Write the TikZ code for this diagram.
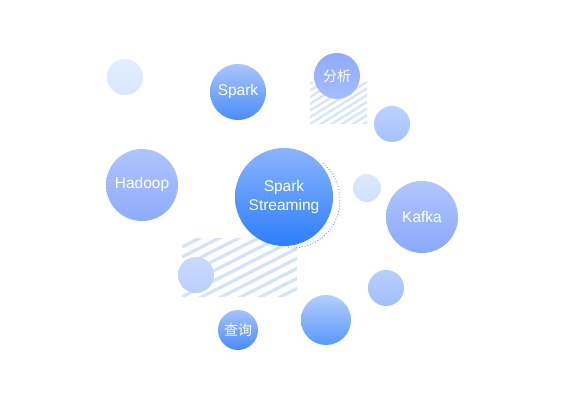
\documentclass[tikz,border=0pt]{standalone}
\usepackage{fontspec}
\setmainfont{Liberation Sans}
\newfontfamily\cjk{Noto Sans CJK SC}
\definecolor{stripeA}{HTML}{D3E2FD}
\definecolor{stripeB}{HTML}{D6E3FD}
\definecolor{dotblue}{HTML}{4A8AF9}
\tikzset{
  bubble/.style={circle, draw=none, inner sep=0pt, text=white, align=center,
    font=\fontsize{15.5}{19}\selectfont},
  cjkbubble/.style={bubble, font=\cjk\fontsize{14}{16}\selectfont},
  dot/.style={circle, draw=none, inner sep=0pt},
  stripeone/.style={draw=stripeA, line width=3.2pt},
  stripetwo/.style={draw=stripeB, line width=2.2pt},
}
\begin{document}
\begin{tikzpicture}[x=1pt,y=1pt]
\useasboundingbox (0,0) rectangle (565,403);
\fill[white] (0,0) rectangle (565,403);
% hatch areas
\begin{scope}
  \clip (182,106) rectangle (297,164);
  \foreach \k in {-10,...,10}
    \draw[stripeone] (182,106+\k*10) -- ++(27:200);
\end{scope}
\begin{scope}
  \clip (310,279) rectangle (367,320);
  \foreach \k in {-12,...,12}
    \draw[stripetwo] (310,279+\k*6.7) -- ++(32:150);
\end{scope}
% dotted arc
\draw[dotblue, dotted, line width=0.8pt] (292,203) ++(50:48) arc[start angle=50, end angle=-95, radius=48];
% circles
\node[dot, minimum size=36pt, top color={rgb,255:red,227;green,237;blue,254}, bottom color={rgb,255:red,216;green,230;blue,253}] (lightA) at (125,326) {};
\node[bubble, minimum size=56pt, top color={rgb,255:red,169;green,197;blue,253}, bottom color={rgb,255:red,77;green,140;blue,250}] (spark) at (238,311) {Spark};
\node[cjkbubble, minimum size=46pt, top color={rgb,255:red,143;green,171;blue,251}, bottom color={rgb,255:red,165;green,188;blue,253}] (fenxi) at (337,327) {分析};
\node[dot, minimum size=36pt, top color={rgb,255:red,188;green,210;blue,254}, bottom color={rgb,255:red,166;green,193;blue,253}] (smallB) at (392,279) {};
\node[bubble, minimum size=72pt, top color={rgb,255:red,174;green,196;blue,253}, bottom color={rgb,255:red,144;green,171;blue,252}] (hadoop) at (142,218) {Hadoop};
\node[bubble, minimum size=98pt, top color={rgb,255:red,138;green,180;blue,252}, bottom color={rgb,255:red,45;green,126;blue,252}] (ss) at (284,206) {Spark\\Streaming};
\node[dot, minimum size=28pt, top color={rgb,255:red,220;green,233;blue,254}, bottom color={rgb,255:red,208;green,225;blue,253}] (smallC) at (367,215) {};
\node[bubble, minimum size=72pt, top color={rgb,255:red,177;green,198;blue,253}, bottom color={rgb,255:red,138;green,168;blue,252}] (kafka) at (422,186) {Kafka};
\node[dot, minimum size=36pt, top color={rgb,255:red,200;green,218;blue,254}, bottom color={rgb,255:red,186;green,208;blue,253}] (smallD) at (196,128) {};
\node[dot, minimum size=36pt, top color={rgb,255:red,184;green,207;blue,253}, bottom color={rgb,255:red,160;green,190;blue,252}] (smallE) at (386,115) {};
\node[dot, minimum size=50pt, top color={rgb,255:red,180;green,206;blue,253}, bottom color={rgb,255:red,90;green,152;blue,250}] (midF) at (326,83) {};
\node[cjkbubble, minimum size=40pt, top color={rgb,255:red,164;green,194;blue,253}, bottom color={rgb,255:red,74;green,138;blue,249}] (chaxun) at (238,73) {查询};
\end{tikzpicture}
\end{document}
